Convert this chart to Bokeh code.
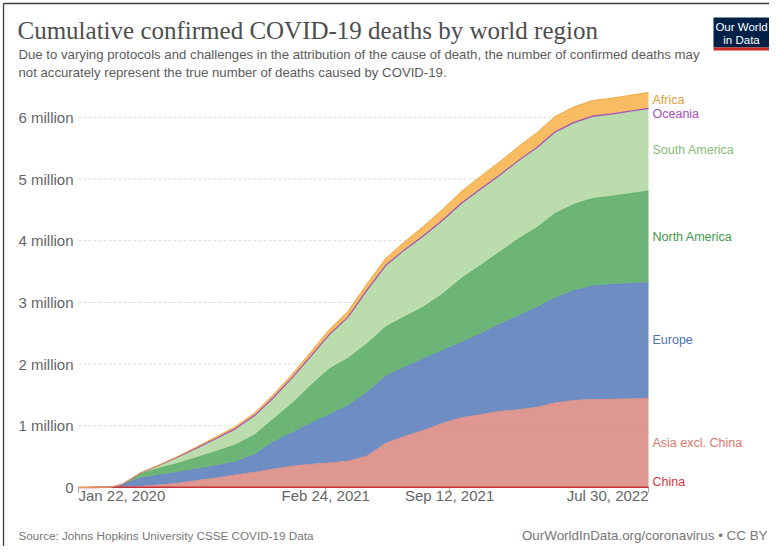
import numpy as np
import pandas as pd
from bokeh.plotting import figure
from bokeh.models import Range1d, ColumnDataSource
from bokeh.core.properties import value
from bokeh.embed import file_html
from bokeh.resources import INLINE

# ---------------- data (cumulative confirmed deaths, millions) ----------------
dates = ["2020-01-22", "2020-02-15", "2020-03-01", "2020-03-15", "2020-04-01", "2020-04-15",
         "2020-05-01", "2020-06-01", "2020-07-01", "2020-08-01", "2020-09-01", "2020-10-01",
         "2020-11-01", "2020-12-01",
         "2021-01-01", "2021-02-01", "2021-03-01", "2021-04-01", "2021-05-01", "2021-06-01",
         "2021-07-01", "2021-08-01", "2021-09-01", "2021-10-01", "2021-11-01", "2021-12-01",
         "2022-01-01", "2022-02-01", "2022-03-01", "2022-04-01", "2022-05-01", "2022-06-01",
         "2022-07-01", "2022-07-30"]

china = [0.00002, 0.0017, 0.0029, 0.0032, 0.0033, 0.0034, 0.0046, 0.0046, 0.0046, 0.0047, 0.0047, 0.0047,
         0.0047, 0.0048,
         0.0048, 0.0048, 0.0048, 0.0048, 0.0049, 0.0049, 0.0049, 0.0049, 0.0050, 0.0050, 0.0050, 0.0050,
         0.0050, 0.0050, 0.0050, 0.0051, 0.0052, 0.0052, 0.0052, 0.0052]
asia = [0.0, 0.00001, 0.00005, 0.0007, 0.005, 0.010, 0.017, 0.040, 0.070, 0.112, 0.155, 0.200,
        0.245, 0.295,
        0.345, 0.375, 0.395, 0.425, 0.505, 0.715, 0.825, 0.925, 1.04, 1.13, 1.18, 1.23,
        1.26, 1.30, 1.37, 1.41, 1.425, 1.43, 1.435, 1.445]
europe = [0.0, 0.0, 0.00003, 0.0025, 0.035, 0.085, 0.135, 0.160, 0.178, 0.188, 0.198, 0.215,
          0.285, 0.44,
          0.54, 0.67, 0.78, 0.90, 1.03, 1.09, 1.12, 1.16, 1.18, 1.22, 1.31, 1.41,
          1.52, 1.62, 1.70, 1.78, 1.84, 1.86, 1.87, 1.875]
north_america = [0.0, 0.0, 0.000001, 0.0001, 0.006, 0.032, 0.070, 0.115, 0.145, 0.19, 0.235, 0.275,
                 0.32, 0.37,
                 0.48, 0.62, 0.74, 0.77, 0.79, 0.80, 0.82, 0.84, 0.92, 1.04, 1.11, 1.17,
                 1.25, 1.30, 1.37, 1.40, 1.42, 1.43, 1.46, 1.485]
south_america = [0.0, 0.0, 0.0, 0.00001, 0.0005, 0.003, 0.009, 0.045, 0.10, 0.15, 0.205, 0.255,
                 0.31, 0.34,
                 0.41, 0.47, 0.55, 0.66, 0.86, 0.99, 1.08, 1.15, 1.19, 1.21, 1.23, 1.24,
                 1.26, 1.29, 1.31, 1.315, 1.32, 1.32, 1.32, 1.32]
oceania = [0.0, 0.0, 0.0, 0.00001, 0.00002, 0.00006, 0.0001, 0.0001, 0.0001, 0.0002, 0.0007, 0.0009,
           0.0009, 0.0009,
           0.0009, 0.0009, 0.0010, 0.0010, 0.0010, 0.0010, 0.0010, 0.0011, 0.0013, 0.0017, 0.0021, 0.0023,
           0.0027, 0.0045, 0.0063, 0.0076, 0.0092, 0.0107, 0.0120, 0.0135]
africa = [0.0, 0.0, 0.0, 0.00002, 0.0002, 0.0008, 0.0015, 0.004, 0.010, 0.020, 0.028, 0.035,
          0.041, 0.048,
          0.055, 0.068, 0.082, 0.092, 0.102, 0.112, 0.128, 0.152, 0.172, 0.192, 0.205, 0.215,
          0.225, 0.240, 0.250, 0.252, 0.253, 0.254, 0.255, 0.257]

regions = ["China", "Asia excl. China", "Europe", "North America", "South America", "Oceania", "Africa"]
keys = ["china", "asia", "europe", "na", "sa", "oceania", "africa"]
fill_colors = ["#c8323b", "#d9867e", "#5379b8", "#53a85f", "#afd69f", "#a652ba", "#f7b048"]
line_colors = ["#c8323b", "#d78d85", "#6284bd", "#5fae69", "#a9d19a", "#a652ba", "#f2ab48"]
label_colors = ["#cf3a40", "#d9776e", "#4c72b4", "#3f9a4b", "#86bd77", "#a652ba", "#e59c3a"]

y_ticks = [0, 1, 2, 3, 4, 5, 6]
y_tick_labels = ["0", "1 million", "2 million", "3 million", "4 million", "5 million", "6 million"]
x_tick_dates = ["2020-01-22", "2021-02-24", "2021-09-12", "2022-07-30"]
x_tick_labels = ["Jan 22, 2020", "Feb 24, 2021", "Sep 12, 2021", "Jul 30, 2022"]

title = "Cumulative confirmed COVID-19 deaths by world region"
subtitle = ["Due to varying protocols and challenges in the attribution of the cause of death, the number of confirmed deaths may",
            "not accurately represent the true number of deaths caused by COVID-19."]
source_note = "Source: Johns Hopkins University CSSE COVID-19 Data"
url_note = "OurWorldInData.org/coronavirus \u2022 CC BY"
logo_lines = ["Our World", "in Data"]

# ---------------- layout geometry (page pixels) ----------------
W, H = 769, 546
X0, X1 = 78, 648       # plot area left/right
Y0, PX_PER_M = 487, 61.7

start = pd.Timestamp(dates[0])
days = [(pd.Timestamp(d) - start).days for d in dates]
tick_days = [(pd.Timestamp(d) - start).days for d in x_tick_dates]
span = max(days)


def dx(px):
    return (px - X0) * span / (X1 - X0)


def dy(py):
    return (Y0 - py) / PX_PER_M


p = figure(width=W, height=H, output_backend="svg", toolbar_location=None,
           x_axis_location=None, y_axis_location=None, min_border=0,
           x_range=Range1d(dx(0), dx(W)), y_range=Range1d(dy(H), dy(0)))
p.outline_line_color = None
p.background_fill_color = "white"
p.border_fill_color = "white"
p.grid.visible = False

FONT = value("Liberation Sans")

# gridlines (within the plot area only)
gy = y_ticks[1:]
p.segment(x0=[0] * len(gy), x1=[span] * len(gy), y0=gy, y1=gy,
          line_color="#d9d9d9", line_width=1, line_dash="3 2")

# stacked areas
series = [china, asia, europe, north_america, south_america, oceania, africa]
src = ColumnDataSource(dict(x=days, **{k: v for k, v in zip(keys, series)}))
p.varea_stack(stackers=keys, x="x", color=fill_colors, fill_alpha=0.85, source=src)
p.vline_stack(stackers=keys[1:5], x="x", color=line_colors[1:5], line_width=0.8, source=src)

cum = np.cumsum(np.array(series), axis=0)

# x axis line and ticks
p.segment(x0=[0], x1=[span], y0=[0], y1=[0], line_color="#a8a8a8", line_width=1)
p.segment(x0=tick_days, x1=tick_days, y0=[0] * 4, y1=[dy(492)] * 4, line_color="#a8a8a8", line_width=1)

p.line(days, list(cum[0]), color=fill_colors[0], line_width=1.6)
p.line(days, list(cum[5]), color=fill_colors[5], line_width=1.2)
p.line(days, list(cum[6]), color="#f0a640", line_width=1.0)

# y tick labels
p.text(x=[dx(73)] * len(y_ticks), y=y_ticks, text=y_tick_labels, text_font=FONT,
       text_font_size="15px", text_color="#666666", text_align="right", text_baseline="middle")

# x tick labels
aligns = ["left", "center", "center", "right"]
for d, t, a in zip(tick_days, x_tick_labels, aligns):
    p.text(x=[d], y=[dy(495)], text=[t], text_font=FONT, text_font_size="15px",
           text_color="#666666", text_align=a, text_baseline="middle")

# right-hand series labels, placed at the middle of each band's final value
final = cum[:, -1]
lows = np.concatenate([[0], final[:-1]])
mids = (final + lows) / 2
nudge_px = [5, 0, 0, 0, 0, -5, 1]
lab_y = [float(m) + n / PX_PER_M for m, n in zip(mids, nudge_px)]
p.text(x=[dx(652)] * len(regions), y=lab_y, text=regions, text_font=FONT, text_font_size="12.5px",
       text_color=label_colors, text_align="left", text_baseline="middle")

# title, subtitle, footer
p.text(x=[dx(17)], y=[dy(30)], text=[title], text_font=value("Liberation Serif"),
       text_font_size="25px", text_color="#4d4d4d", text_align="left", text_baseline="middle")
p.text(x=[dx(18)] * 2, y=[dy(54), dy(71.5)], text=subtitle, text_font=FONT, text_font_size="13.2px",
       text_color="#5b5b5b", text_align="left", text_baseline="middle")
p.text(x=[dx(18)], y=[dy(535)], text=[source_note], text_font=FONT, text_font_size="11.7px",
       text_color="#777777", text_align="left", text_baseline="middle")
p.text(x=[dx(767)], y=[dy(535)], text=[url_note], text_font=FONT, text_font_size="13.4px",
       text_color="#777777", text_align="right", text_baseline="middle")

# logo
p.quad(left=[dx(713)], right=[dx(769)], top=[dy(17)], bottom=[dy(47)], fill_color="#002147", line_color=None)
p.quad(left=[dx(713)], right=[dx(769)], top=[dy(47)], bottom=[dy(50)], fill_color="#ce261e", line_color=None)
p.text(x=[dx(741)] * 2, y=[dy(26.5), dy(39)], text=logo_lines, text_font=FONT, text_font_size="11.5px",
       text_color="white", text_align="center", text_baseline="middle")

# frame border seen at the top and left edge of the reference
p.segment(x0=[dx(3), dx(3)], x1=[dx(W), dx(3)], y0=[dy(3), dy(3)], y1=[dy(3), dy(H)],
          line_color="#3c3c3c", line_width=1.3)

open("out.html", "w").write(file_html(p, INLINE))
